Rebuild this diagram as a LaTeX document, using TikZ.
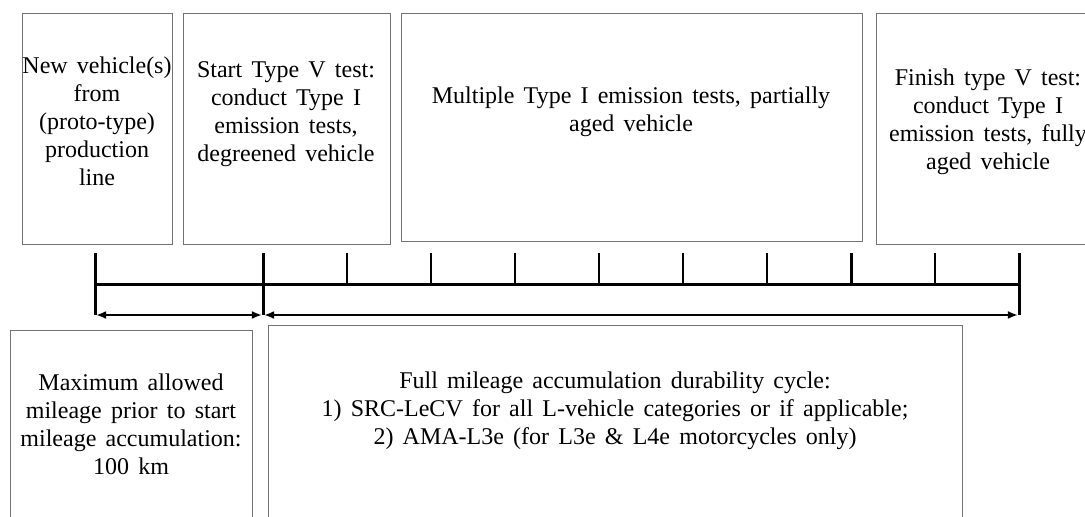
\documentclass[tikz,border=0pt]{standalone}
\usepackage{fontspec}
\setmainfont{Liberation Serif}
\usepackage{tikz}
\usetikzlibrary{arrows.meta, positioning}
\newcommand\boxfont{\fontsize{12}{14}\selectfont\spaceskip=4.6pt plus 1pt minus 0.5pt\relax}

\begin{document}
\begin{tikzpicture}[x=0.5pt, y=-0.5pt, >={Latex[length=5pt, width=4pt]},
  box/.style={draw=black!55, line width=0.7pt, anchor=north west, inner sep=0pt},
  txt/.style={align=center, font=\boxfont},
  major/.style={line width=1.5pt},
  minor/.style={line width=0.6pt},
  dim/.style={<->, line width=0.8pt, shorten <=0.6pt, shorten >=0.6pt}]
\useasboundingbox (0,0) rectangle (1085,517);
% boxes above the time line
\node[box, minimum width=75pt, minimum height=115.5pt] (newbox) at (22,13) {};
\node[box, minimum width=103.5pt, minimum height=115.5pt] (startbox) at (183,13) {};
\node[box, minimum width=230.5pt, minimum height=114pt] (multibox) at (401,13) {};
\node[box, minimum width=115pt, minimum height=115.5pt] (finishbox) at (876,13) {};
\node[txt] (newtxt) at (97,121) {New vehicle(s)\\from\\(proto-type)\\production\\line};
\node[txt] (starttxt) at (286,114) {Start Type V test:\\conduct Type I\\emission tests,\\degreened vehicle};
\node[txt] (multitxt) at (631,112) {Multiple Type I emission tests, partially\\aged vehicle};
\node[txt] (finishtxt) at (988,122) {Finish type V test:\\conduct Type I\\emission tests, fully\\aged vehicle};
% boxes below the time line
\node[box, minimum width=121pt, minimum height=100pt] (maxbox) at (10,330) {};
\node[box, minimum width=347pt, minimum height=102.5pt] (fullbox) at (268,325) {};
\node[txt] (maxtxt) at (131,424) {Maximum allowed\\mileage prior to start\\mileage accumulation:\\100 km};
\node[txt] (fulltxt) at (615,411) {Full mileage accumulation durability cycle:\\1) SRC-LeCV for all L-vehicle categories or if applicable;\\2) AMA-L3e (for L3e \& L4e motorcycles only)};
% time line
\coordinate (pretop) at (95,253);
\coordinate (preaxis) at (95,285);
\coordinate (prelow) at (95,315);
\foreach \i in {0,...,9} {
  \coordinate (tick\i top) at (263+84*\i,253);
  \coordinate (tick\i axis) at (263+84*\i,285);
  \coordinate (tick\i low) at (263+84*\i,315);
}
\draw[major] (preaxis) -- (tick9axis);
\draw[major] (pretop) -- (prelow);
\draw[major] (tick0top) -- (tick0low);
\draw[major] (tick9top) -- (tick9low);
\draw[major] (tick7top) -- (tick7axis);
\foreach \i in {1,...,6,8} \draw[minor] (tick\i top) -- (tick\i axis);
\draw[dim] (prelow) -- (tick0low);
\draw[dim] (tick0low) -- (tick9low);
\end{tikzpicture}
\end{document}
